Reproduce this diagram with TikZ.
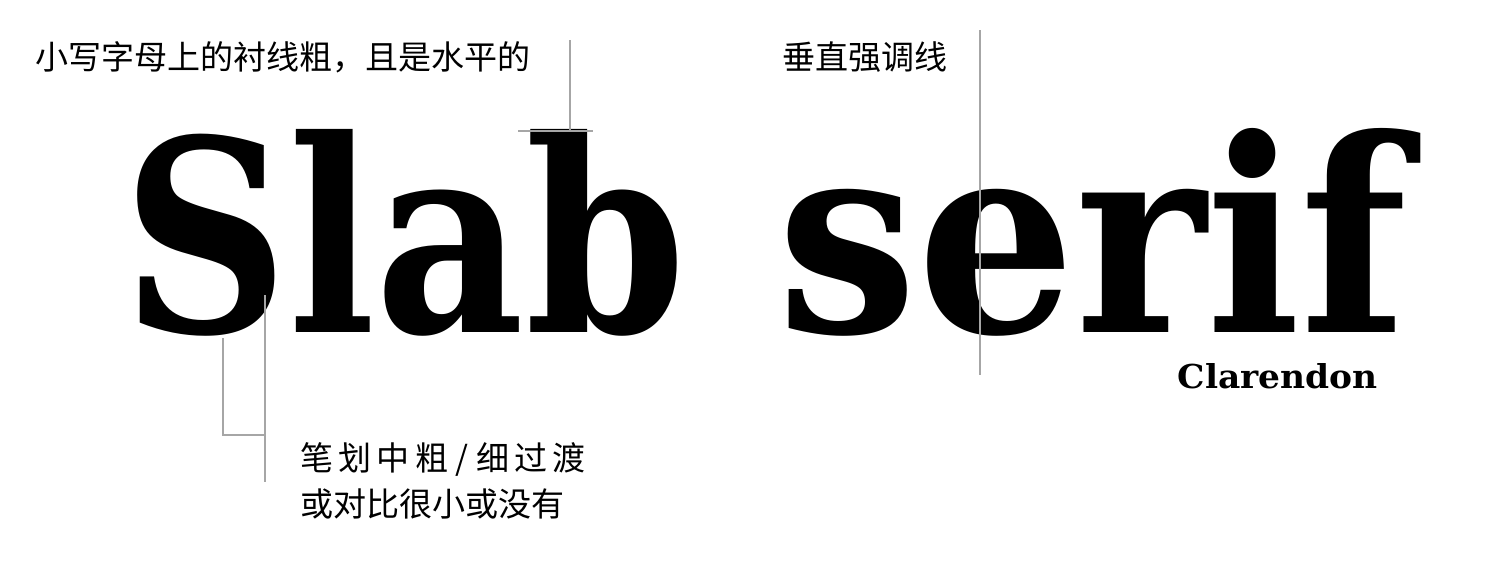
\documentclass[tikz,border=0pt]{standalone}
\usepackage{fontspec}
\newfontfamily\cjk{Noto Sans CJK SC}
\newfontfamily\slab{DejaVu Serif}
\usetikzlibrary{positioning}
\tikzset{
  lead/.style={draw=gray!70,line width=1.1pt},
}
\newcommand\gap{\hspace{3pt}}

\begin{document}
\begin{tikzpicture}[x=0.2mm,y=-0.2mm,
   note/.style={font=\cjk\fontsize{18.8pt}{26.5pt}\selectfont,inner sep=0pt,anchor=west,align=left},
   big/.style={font=\slab\bfseries,inner sep=0pt,anchor=base west}]
  \useasboundingbox (0,0) rectangle (1500,566);
  % the sample words
  \node[big] (slab) at (122,332) {\resizebox{112.6mm}{40.6mm}{Slab}};
  \node[big] (serif) at (777,332) {\resizebox{126mm}{40.8mm}{serif}};
  \node[big,anchor=base east] (name) at (1378,388) {\resizebox{40mm}{5mm}{Clarendon}};
  % notes
  \node[note] (upper) at (35,57) {小写字母上的衬线粗，且是水平的};
  \node[note] (stress) at (782,57) {垂直强调线};
  \node[note] (contrast) at (300,481) {笔\gap 划\gap 中\gap 粗 / 细\gap 过\gap 渡\\或对比很小或没有};
  % leader lines
  \coordinate (bTop) at (570,40);
  \coordinate (bSerifL) at (518,131);
  \coordinate (bSerifR) at (593,131);
  \draw[lead] (bTop) -- (bTop |- bSerifL);
  \draw[lead] (bSerifL) -- (bSerifR);
  \coordinate (axisTop) at (980,30);
  \coordinate (axisBot) at (980,375);
  \draw[lead] (axisTop) -- (axisBot);
  \coordinate (sThin) at (223,338);
  \coordinate (kink) at (223,435);
  \coordinate (sThick) at (265,295);
  \coordinate (sEnd) at (265,482);
  \draw[lead] (sThin) -- (kink) -- (kink -| sThick);
  \draw[lead] (sThick) -- (sEnd);
\end{tikzpicture}
\end{document}
